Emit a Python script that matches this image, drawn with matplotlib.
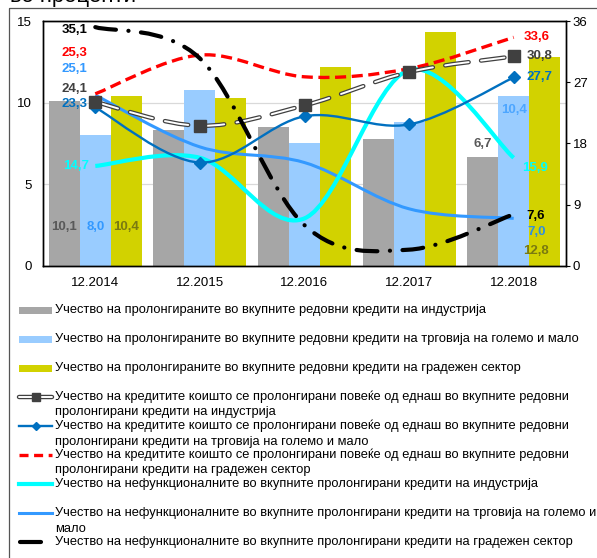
import numpy as np
import matplotlib
matplotlib.use("Agg")
import matplotlib.pyplot as plt
from matplotlib.path import Path
from matplotlib.patches import PathPatch, Rectangle
from matplotlib.lines import Line2D

plt.rcParams['font.family'] = ['Liberation Sans', 'DejaVu Sans']
plt.rcParams['lines.scale_dashes'] = False

# ---------------- data ----------------
categories = ["12.2014", "12.2015", "12.2016", "12.2017", "12.2018"]

# bars (left axis, %)
bar_industry = [10.1, 8.3, 8.5, 7.8, 6.7]
bar_trade = [8.0, 10.8, 7.5, 8.8, 10.4]
bar_construction = [10.4, 10.3, 12.2, 14.3, 12.8]

# lines (right axis, %)
multi_industry = [24.1, 20.6, 23.6, 28.5, 30.8]
multi_trade = [23.3, 15.2, 22.0, 20.8, 27.7]
multi_construction = [25.3, 31.0, 27.8, 29.0, 33.6]
npl_industry = [14.7, 15.9, 7.0, 28.8, 15.9]
npl_trade = [25.1, 17.5, 15.2, 8.4, 7.0]
npl_construction = [35.1, 30.5, 6.0, 2.4, 7.6]

left_ticks = [0, 5, 10, 15]
right_ticks = [0, 9, 18, 27, 36]

legend_labels = [
    "Учество на пролонгираните во вкупните редовни кредити на индустрија",
    "Учество на пролонгираните во вкупните редовни кредити на трговија на големо и мало",
    "Учество на пролонгираните во вкупните редовни кредити на градежен сектор",
    "Учество на кредитите коишто се пролонгирани повеќе од еднаш во вкупните редовни\nпролонгирани кредити на индустрија",
    "Учество на кредитите коишто се пролонгирани повеќе од еднаш во вкупните редовни\nпролонгирани кредити на трговија на големо и мало",
    "Учество на кредитите коишто се пролонгирани повеќе од еднаш во вкупните редовни\nпролонгирани кредити на градежен сектор",
    "Учество на нефункционалните во вкупните пролонгирани кредити на индустрија",
    "Учество на нефункционалните во вкупните пролонгирани кредити на трговија на големо и\nмало",
    "Учество на нефункционалните во вкупните пролонгирани кредити на градежен сектор",
]
title_text = "во проценти"

# ---------------- styles ----------------
C_GRAY, C_LBLUE, C_YEL = "#A6A6A6", "#99CCFF", "#D2D200"
C_MI, C_MT, C_MC = "#404040", "#0070C0", "#FF0000"
C_NI, C_NT, C_NC = "#00FFFF", "#3399FF", "#000000"
C_OLIVE, C_DGRAY = "#7A7A10", "#595959"

W, H = 597, 558
fig = plt.figure(figsize=(W / 100, H / 100), dpi=100)

# overlay axes in pixel coordinates for frame, title and legend
lg = fig.add_axes([0, 0, 1, 1])
lg.set_xlim(0, W)
lg.set_ylim(H, 0)
lg.axis("off")
lg.add_patch(Rectangle((9, 8), W + 10, H + 10, fill=False, edgecolor="#555555", lw=0.9))
lg.text(10, 2, title_text, fontsize=16, va="baseline", ha="left", color="#000000", clip_on=False)

# main axes
L, R, T, B = 43, 566, 21, 266
ax = fig.add_axes([L / W, 1 - B / H, (R - L) / W, (B - T) / H])
ax2 = ax.twinx()

x = np.arange(len(categories))
bw = 0.296
ax.bar(x - bw, bar_industry, bw, color=C_GRAY, zorder=2)
ax.bar(x, bar_trade, bw, color=C_LBLUE, zorder=2)
ax.bar(x + bw, bar_construction, bw, color=C_YEL, zorder=2)

ax.set_xlim(-0.5, len(categories) - 0.5)
ax.set_ylim(0, 15)
ax.set_yticks(left_ticks)
ax.set_xticks(x)
ax.set_xticklabels(categories)
ax.set_axisbelow(True)
ax.grid(axis="y", color="#D9D9D9", lw=0.9, zorder=0)
ax.tick_params(axis="y", length=0, pad=8, labelsize=9.5)
ax.tick_params(axis="x", length=0, pad=8, labelsize=9.5)

ax2.set_ylim(0, 36)
ax2.set_yticks(right_ticks)
ax2.tick_params(axis="y", length=3, pad=2, labelsize=9.5, direction="out")
for a in (ax, ax2):
    for s in a.spines.values():
        s.set_color("#000000")
        s.set_linewidth(1.0)


def smooth_path(xs, ys):
    P = np.column_stack([xs, ys]).astype(float)
    n = len(P)
    verts = [P[0]]
    codes = [Path.MOVETO]
    for i in range(n - 1):
        p_prev = P[i - 1] if i > 0 else P[i]
        p_next = P[i + 2] if i + 2 < n else P[i + 1]
        c1 = P[i] + (P[i + 1] - p_prev) / 6.0
        c2 = P[i + 1] - (p_next - P[i]) / 6.0
        verts += [c1, c2, P[i + 1]]
        codes += [Path.CURVE4] * 3
    return Path(verts, codes)


def draw_smooth(vals, color, lw, ls="-", cap="butt", z=3):
    p = PathPatch(smooth_path(x, vals), fill=False, edgecolor=color, lw=lw,
                  linestyle=ls, capstyle=cap, joinstyle="round",
                  transform=ax2.transData, zorder=z)
    ax2.add_patch(p)


DASH_MI = (0, (17, 9))
DASH_MC = (0, (8, 4))
DASH_NC = (0, (15, 9, 0.1, 9))

draw_smooth(npl_trade, C_NT, 2.2, z=3)
draw_smooth(npl_industry, C_NI, 3.0, z=3.1)
draw_smooth(multi_trade, C_MT, 1.7, z=3.2)
ax2.plot(x, multi_trade, linestyle="none", marker="D", ms=6.5, color=C_MT, zorder=3.3)
draw_smooth(multi_construction, C_MC, 2.4, ls=DASH_MC, z=3.4)
draw_smooth(multi_industry, C_MI, 3.2, ls=DASH_MI, cap="round", z=3.5)
draw_smooth(multi_industry, "#FFFFFF", 1.4, ls=DASH_MI, cap="round", z=3.6)
ax2.plot(x, multi_industry, linestyle="none", marker="s", ms=8.5, color=C_MI, zorder=3.7)
draw_smooth(npl_construction, C_NC, 3.0, ls=DASH_NC, cap="round", z=3.8)


def fmt(v):
    return f"{v:.1f}".replace(".", ",")


lab_kw = dict(fontsize=9.5, fontweight="bold", textcoords="offset pixels", va="center",
              annotation_clip=False, zorder=10)

# line labels: first point (left) and last point (right)
line_series = [
    (npl_construction, C_NC, (-8, -3), (13, -2)),
    (multi_construction, C_MC, (-8, 41), (10, 0)),
    (npl_trade, C_NT, (-8, 26), (14, -14)),
    (multi_industry, C_MI, (-8, 13), (13, 0)),
    (multi_trade, C_MT, (-8, 3), (13, 0)),
    (npl_industry, C_NI, (-6, 0), (8, -10)),
]
for vals, col, offl, offr in line_series:
    lcol = "#2F8FDF" if vals is npl_trade else col
    ax2.annotate(fmt(vals[0]), (x[0], vals[0]), xytext=offl, ha="right", color=col, **lab_kw)
    ax2.annotate(fmt(vals[-1]), (x[-1], vals[-1]), xytext=offr, ha="left", color=lcol, **lab_kw)

# bar labels
tr = ax.transData
ax2.annotate(fmt(bar_industry[0]), (x[0] - bw, 0), xycoords=tr, xytext=(0, 39), ha="center", color=C_DGRAY, **lab_kw)
ax2.annotate(fmt(bar_trade[0]), (x[0], 0), xycoords=tr, xytext=(0, 39), ha="center", color=C_NT, **lab_kw)
ax2.annotate(fmt(bar_construction[0]), (x[0] + bw, 0), xycoords=tr, xytext=(0, 39), ha="center", color=C_OLIVE, **lab_kw)
ax2.annotate(fmt(bar_industry[-1]), (x[-1] - bw, bar_industry[-1]), xycoords=tr, xytext=(0, 13), ha="center", color=C_DGRAY, **lab_kw)
ax2.annotate(fmt(bar_trade[-1]), (x[-1], bar_trade[-1]), xycoords=tr, xytext=(0, -14), ha="center", color="#4DA6FF", **lab_kw)
ax2.annotate(fmt(bar_construction[-1]), (x[-1] + bw, 0), xycoords=tr, xytext=(-9, 15), ha="center", color=C_OLIVE, **lab_kw)

# ---------------- legend (drawn in pixel coordinates) ----------------
hx0, hx1, tx = 19, 52, 55
ys = [310, 339, 368, 397, 426, 455, 484, 513, 542]
leg_fs = 9.3

for i, (lab, y) in enumerate(zip(legend_labels, ys)):
    lines = lab.split("\n")
    for k, t in enumerate(lines):
        lg.text(tx, y + 15.5 * k, t, fontsize=leg_fs, va="center", ha="left", color="#000000")

# patches
for y, c in zip(ys[:3], [C_GRAY, C_LBLUE, C_YEL]):
    lg.add_patch(Rectangle((hx0, y - 3.5), hx1 - hx0, 7, color=c, lw=0))
mid = (hx0 + hx1) / 2
# multi industry
lg.add_line(Line2D([hx0, hx1], [ys[3], ys[3]], color=C_MI, lw=3.2, solid_capstyle="round"))
lg.add_line(Line2D([hx0, hx1], [ys[3], ys[3]], color="#FFFFFF", lw=1.4, solid_capstyle="round"))
lg.add_line(Line2D([mid], [ys[3]], marker="s", ms=6, color=C_MI, linestyle="none"))
# multi trade
lg.add_line(Line2D([hx0, hx1], [ys[4], ys[4]], color=C_MT, lw=1.7))
lg.add_line(Line2D([mid], [ys[4]], marker="D", ms=4.5, color=C_MT, linestyle="none"))
# multi construction
lg.add_line(Line2D([hx0, hx1], [ys[5], ys[5]], color=C_MC, lw=2.4, linestyle=(0, (6.5, 4))))
# npl
lg.add_line(Line2D([hx0, hx1], [ys[6], ys[6]], color=C_NI, lw=3.0))
lg.add_line(Line2D([hx0, hx1], [ys[7], ys[7]], color=C_NT, lw=2.2))
lg.add_line(Line2D([hx0 + 1, hx0 + 22], [ys[8], ys[8]], color=C_NC, lw=3.0, solid_capstyle="round"))

fig.savefig("out.png", dpi=100)
